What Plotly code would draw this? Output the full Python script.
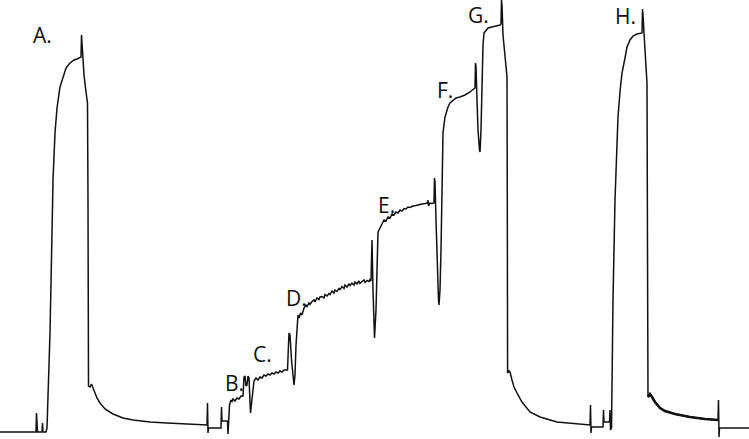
import plotly.graph_objects as go

# Recorder trace: time (arbitrary units) and pen deflection (depth from top, arbitrary units)
time = [
    0, 36, 36.5, 37.5, 42, 42.5, 43, 46, 47, 48, 50, 52, 53, 55, 57, 60, 63, 66, 70, 74, 77, 81,
    81.5, 82.5, 84, 86, 87.5, 88, 88.5, 90, 91.5, 93, 95, 97, 100, 105, 113, 123, 133, 150, 167,
    190, 207, 207.5, 208, 208.5, 221, 221.5, 222, 227.5, 228, 229, 229.5, 231, 232, 233, 235, 237,
    239, 241, 243, 244, 245, 246, 247, 248, 249, 250.5, 252, 253, 254, 256, 258, 260, 262, 264,
    266, 268, 270, 272, 274, 276, 278, 280, 282, 284, 287.5, 288.5, 289, 290, 291.5, 294, 295,
    296, 297, 298, 299, 300.5, 302,
    304, 306, 307, 309, 310, 312, 314, 315, 317, 319, 320, 322, 324, 325, 327, 329, 330, 332, 334,
    335, 337, 339, 340, 342, 344, 345, 347, 349, 350, 352, 354, 355, 357, 359, 360, 362, 364, 365,
    367, 369, 370,
    371, 371.5, 372, 373, 374.5, 376, 377, 378, 380, 382, 384, 386, 388, 390, 392, 394, 396, 398,
    400, 402, 404, 406, 408, 410, 413, 416, 419, 422, 425, 427.5, 428, 428.5, 430, 432, 434,
    434.5, 435, 436, 437, 438.5, 439, 440, 441, 442, 443, 445, 448, 450, 453, 456, 460, 465, 470,
    473, 475, 475.5, 476, 477, 478, 479.5, 480, 481, 482, 483, 484, 486, 488, 492, 497, 500, 501,
    501.5, 502, 503, 505, 507, 507.3, 507.6, 509, 510, 512, 514, 517, 522, 530, 540, 557, 575, 590,
    590.5, 591, 591.5, 603, 603.5, 604, 609.5, 610, 610.5, 611.5, 613, 615, 617, 618, 620, 622,
    625, 627, 630, 633, 637, 642, 642.5, 643, 645, 647, 647.5, 648, 650, 652, 655, 660, 665, 675,
    690, 705, 718, 718.5, 719, 719.5, 735, 749,
]
depth = [
    432, 432, 413, 432, 432, 423, 432, 432, 428, 400, 333, 233, 180, 133, 108, 87, 77, 68, 63, 60, 59, 57,
    35, 57, 75, 92, 103, 200, 386, 387, 384, 388, 393, 398, 403, 409, 414, 418, 420, 422, 423,
    424, 425, 403, 433, 428, 428, 407, 421, 421, 434, 420, 405, 400, 402, 399, 401, 398,
    399, 396, 396, 377, 376, 386, 385, 376, 378, 413, 400, 388, 381, 378, 380, 377, 378, 375,
    376, 374, 375, 373, 374, 372, 373, 371, 372, 370, 370, 345, 333, 335, 360, 385, 375,
    345, 322, 315, 318, 313, 315,
    308, 305, 306.5, 303, 304.5, 301.5, 300, 302, 298, 299.5, 297, 296.5, 298, 294.5, 296, 293.5, 294.5, 291, 293,
    290, 291.5, 288, 290, 286.5, 288.5, 285, 287, 284, 285.5, 283, 285, 282, 284, 281, 283.5, 281.5, 280, 282.5,
    280.5, 281.5, 279.5,
    281, 250, 240, 290, 338, 310, 260, 232, 228, 224, 220, 221, 217, 218, 214, 215, 212, 213,
    210, 211, 208.5, 209, 207, 207.5, 206, 205.5, 204.5, 204, 203.5, 203, 200, 206, 203, 203.5, 203,
    178, 182, 220, 260, 300, 305, 290, 250, 170, 133, 117, 107, 103, 100, 98, 97, 95, 92,
    90, 88, 63, 66, 100, 130, 150, 152, 130, 80, 45, 33, 30, 28, 27, 26, 25, 24,
    0, 5, 35, 60, 77, 200, 373, 371, 372, 380, 387, 393, 402, 412, 417, 422, 424, 425,
    405, 433, 427, 427, 410, 422, 422, 410, 430, 428, 300, 200, 140, 117, 92, 73,
    58, 47, 40, 36, 34, 33, 9, 15, 50, 83, 250, 397, 394, 397, 402, 408, 411, 414,
    417, 419, 420, 400, 437, 428, 428, 428,
]

labels = ["A.", "B.", "C.", "D.", "E.", "F.", "G.", "H."]
label_time = [42, 234, 262, 296, 386, 445, 478, 625]
label_depth = [35, 383, 354, 298, 205, 90, 15, 16]

fig = go.Figure()
fig.add_trace(go.Scatter(
    x=time, y=depth, mode="lines",
    line=dict(color="#111111", width=1.5),
    hoverinfo="skip", showlegend=False,
))

# the pen trace is heavier on the decay after H
tail = [(t, d) for t, d in zip(time, depth) if 648 <= t <= 718]
fig.add_trace(go.Scatter(
    x=[p[0] for p in tail], y=[p[1] for p in tail], mode="lines",
    line=dict(color="#111111", width=2.6),
    hoverinfo="skip", showlegend=False,
))

for t, xx, yy in zip(labels, label_time, label_depth):
    fig.add_annotation(
        x=xx, y=yy, xref="x", yref="y", text=t, showarrow=False,
        font=dict(family="Open Sans", size=21, color="#111111"),
        xanchor="center", yanchor="middle",
    )

fig.update_xaxes(range=[0, 749], visible=False, fixedrange=True)
fig.update_yaxes(range=[439, 0], visible=False, fixedrange=True)
fig.update_layout(
    width=749, height=439,
    margin=dict(l=0, r=0, t=0, b=0),
    paper_bgcolor="white", plot_bgcolor="white",
)
fig.write_html(
    "out.html",
    config={"displayModeBar": False},
    post_script="document.body.style.margin='0';document.body.style.overflow='hidden';",
)
